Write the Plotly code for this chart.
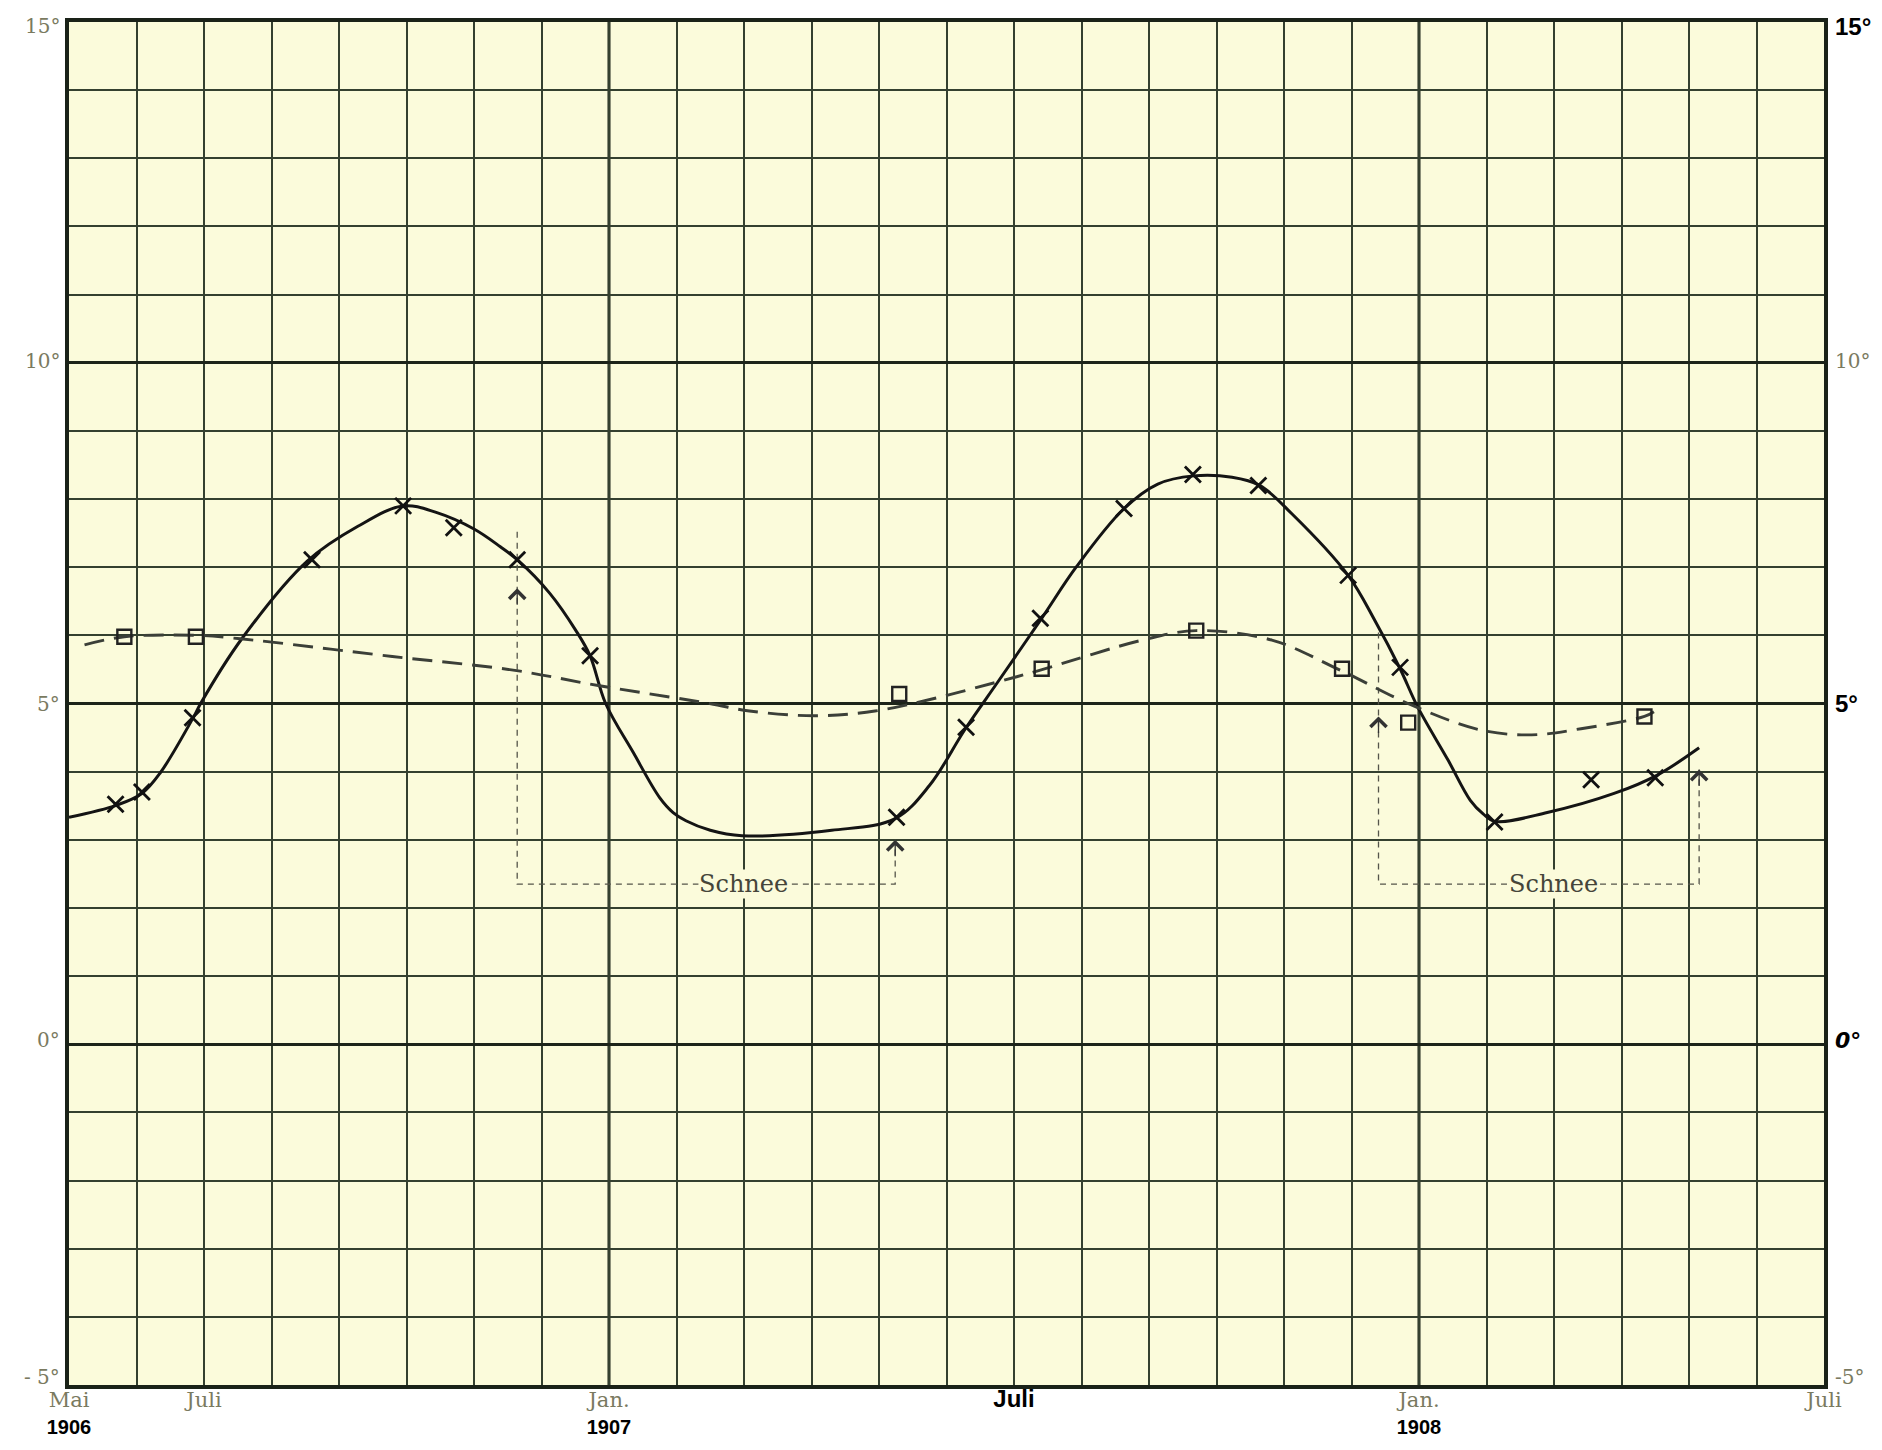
import plotly.graph_objects as go

# x = months after 1 May 1906, y = temperature in degrees
curve_x = [0, 0.71, 1.08, 1.35, 1.85, 1.95, 2.56, 3.53, 4.28, 4.95, 5.45, 6.0, 6.39, 6.64, 7.12, 7.51,
           7.72, 7.95, 8.36, 8.75, 8.95, 9.14, 9.5, 9.97, 11.3, 12.24, 12.75, 13.28, 13.77, 14.41, 14.92,
           15.62, 16.13, 16.66, 17.23, 17.64, 18.12, 18.95, 19.35, 19.72, 19.98, 20.43, 20.76, 20.95,
           21.12, 21.9, 22.89, 23.53, 24.15]
curve_y = [3.33, 3.51, 3.68, 3.98, 4.81, 5.0, 5.95, 7.09, 7.60, 7.90, 7.80, 7.56, 7.30, 7.11, 6.62, 6.07,
           5.70, 5.0, 4.28, 3.62, 3.40, 3.28, 3.14, 3.06, 3.14, 3.31, 3.80, 4.63, 5.33, 6.25, 7.0,
           7.85, 8.22, 8.34, 8.32, 8.20, 7.78, 6.88, 6.21, 5.51, 4.95, 4.17, 3.58, 3.38,
           3.27, 3.40, 3.68, 3.95, 4.35]

cross_x = [0.69, 1.08, 1.83, 3.60, 4.95, 5.70, 6.64, 7.72, 12.26, 13.29, 14.39, 15.63, 16.65, 17.62,
           18.95, 19.72, 21.12, 22.55, 23.50]
cross_y = [3.52, 3.70, 4.79, 7.11, 7.90, 7.58, 7.11, 5.70, 3.33, 4.65, 6.25, 7.86, 8.36, 8.20,
           6.88, 5.53, 3.26, 3.88, 3.91]

dash_x = [0.23, 0.82, 1.88, 2.54, 4.79, 6.58, 7.86, 9.49, 10.08, 11.06, 11.94, 12.80, 13.77, 14.39,
          15.90, 16.70, 17.82, 18.83, 19.93, 20.92, 21.67, 22.40, 23.34, 23.48]
dash_y = [5.86, 5.98, 6.00, 5.95, 5.69, 5.49, 5.26, 5.00, 4.89, 4.82, 4.89, 5.07, 5.32, 5.49,
          5.93, 6.07, 5.93, 5.49, 4.96, 4.61, 4.54, 4.63, 4.81, 4.88]

square_x = [0.82, 1.88, 12.30, 14.41, 16.70, 18.86, 19.84, 23.34]
square_y = [5.98, 5.98, 5.14, 5.51, 6.07, 5.51, 4.72, 4.81]

# snow periods
snow_start = [6.64, 19.40]
snow_end = [12.24, 24.15]
snow_left_top = [7.52, 6.04]
snow_left_arrow = [6.69, 4.81]
snow_right_arrow = [3.0, 4.03]
snow_bottom = 2.35
snow_label_x = [9.99, 21.99]
snow_label = "Schnee"

# axis labels
x_tick_vals = [0, 2, 8, 14, 20, 26]
x_months = ["Mai", "Juli", "Jan.", "Juli", "Jan.", "Juli"]
x_years = ["1906", "", "1907", "", "1908", ""]
x_bold = [False, False, False, True, False, False]
jan_months = [8, 20]
y_tick_vals = [-5, 0, 5, 10, 15]
y_left_text = ["- 5°", "0°", "5°", "10°", "15°"]
y_right_text = ["-5°", "0°", "5°", "10°", "15°"]
y_right_style = ["grey", "bolditalic", "bold", "grey", "bold"]
y_label_shift = [8, 4, 0, 2, -4]

GRID = "#34402f"
PAPER = "#fbfbdb"
GREY = "#7a7a60"
NARROW = "Liberation Sans Narrow,Liberation Sans,Arial,sans-serif"
YEAR_STYLE = f"font-family:{NARROW};font-weight:bold;color:#000;font-size:20px"

fig = go.Figure()

# snow brackets
for s, e, lt, ra in zip(snow_start, snow_end, snow_left_top, snow_right_arrow):
    fig.add_trace(go.Scatter(x=[s, s, e, e], y=[lt, snow_bottom, snow_bottom, ra], mode="lines",
                             line=dict(color="#55554a", width=1.3, dash="6px,5px"),
                             hoverinfo="skip", showlegend=False))

fig.add_trace(go.Scatter(x=dash_x, y=dash_y, xaxis="x", yaxis="y2", mode="lines",
                         line=dict(color="#3b3f38", width=2.9, dash="20px,10px", shape="spline", smoothing=1.0),
                         hoverinfo="skip", showlegend=False))
fig.add_trace(go.Scatter(x=curve_x, y=curve_y, mode="lines",
                         line=dict(color="#141414", width=3, shape="spline", smoothing=1.0),
                         hoverinfo="skip", showlegend=False))
fig.add_trace(go.Scatter(x=cross_x, y=cross_y, mode="markers",
                         marker=dict(symbol="x-thin-open", size=16, color="#111",
                                     line=dict(width=2.8, color="#111")),
                         hoverinfo="skip", showlegend=False))
fig.add_trace(go.Scatter(x=square_x, y=square_y, xaxis="x2", yaxis="y", mode="markers",
                         marker=dict(symbol="square-open", size=14, color="#222", line=dict(width=2.4, color="#222")),
                         hoverinfo="skip", showlegend=False))

for jx in jan_months:
    fig.add_shape(type="line", x0=jx, x1=jx, y0=0, y1=1, xref="x", yref="paper",
                  line=dict(color="#1c2419", width=3), layer="below")

for s, e, la, ra, lx in zip(snow_start, snow_end, snow_left_arrow, snow_right_arrow, snow_label_x):
    for ax_x, ax_y in ((s, la), (e, ra)):
        fig.add_annotation(x=ax_x, y=ax_y, ax=0, ay=18, text="", showarrow=True, arrowhead=4,
                           arrowsize=2.4, arrowwidth=1.3, arrowcolor="#333")
    fig.add_annotation(x=lx, y=snow_bottom, text=snow_label, showarrow=False, bgcolor=PAPER,
                       font=dict(family="DejaVu Serif", size=24, color="#45453a"), borderpad=0)

# y-axis labels on both sides
for v, lt, rt, st, sh in zip(y_tick_vals, y_left_text, y_right_text, y_right_style, y_label_shift):
    fig.add_annotation(x=0, xref="paper", y=v, yref="y", text=lt, showarrow=False, xanchor="right",
                       xshift=-7, yshift=sh, font=dict(family="DejaVu Serif", size=20, color=GREY))
    if st == "bold":
        rf = dict(family=NARROW, size=24, color="#000")
        rt = f"<b>{rt}</b>"
    elif st == "bolditalic":
        rf = dict(family="DejaVu Sans", size=22, color="#000")
        rt = f"<b><i>{rt}</i></b>"
    else:
        rf = dict(family="DejaVu Serif", size=20, color=GREY)
    fig.add_annotation(x=1, xref="paper", y=v, yref="y", text=rt, showarrow=False, xanchor="left",
                       xshift=9, yshift=sh, font=rf)

x_text = []
for m, yr, b in zip(x_months, x_years, x_bold):
    t = (f"<span style='color:#000;font-weight:bold;font-family:{NARROW};font-size:24px'>{m}</span>"
         if b else m)
    if yr:
        t += f"<br><span style='{YEAR_STYLE}'>{yr}</span>"
    x_text.append(t)

axis_common = dict(showline=True, linewidth=3.5, linecolor="#1a2218", mirror=True, zeroline=False,
                   ticks="", automargin=False)

# page body has an 8px margin: figure is sized so plot area lands where the reference has it
fig.update_layout(
    width=1866, height=1434,
    margin=dict(l=61, r=50, t=14, b=57),
    paper_bgcolor="#ffffff", plot_bgcolor=PAPER,
    showlegend=False,
    xaxis=dict(range=[0, 26], tickmode="linear", tick0=0, dtick=1, showgrid=True, gridcolor=GRID,
               gridwidth=1.6, showticklabels=False, **axis_common),
    xaxis2=dict(overlaying="x", matches="x", side="bottom", anchor="y", tickmode="array",
                tickvals=x_tick_vals, ticktext=x_text, showgrid=False, zeroline=False, ticks="",
                showline=False, automargin=False, ticklabelstandoff=0,
                tickfont=dict(family="DejaVu Serif", size=21, color=GREY)),
    yaxis=dict(range=[-5, 15], tickmode="linear", tick0=0, dtick=5, showticklabels=False,
               showgrid=True, gridcolor="#1c2419", gridwidth=3,
               minor=dict(tickmode="linear", tick0=0, dtick=1, showgrid=True, gridcolor=GRID,
                          gridwidth=1.6, ticks=""),
               **axis_common),
    yaxis2=dict(overlaying="y", matches="y", side="right", anchor="x", showticklabels=False,
                showgrid=False, zeroline=False, ticks="", showline=False, automargin=False),
)

fig.write_html("out.html")
